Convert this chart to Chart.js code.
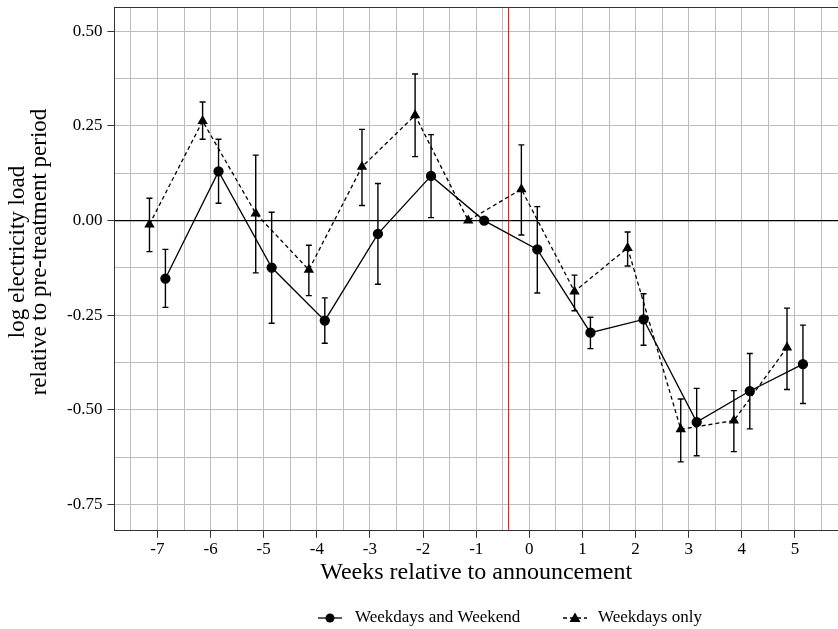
<!DOCTYPE html>
<html>
<head>
<meta charset="utf-8">
<script src="https://cdn.jsdelivr.net/npm/chart.js@4.4.1/dist/chart.umd.min.js"></script>
<style>
  body { margin: 0; background: #fff; }
  #wrap { width: 838px; height: 629px; position: relative; }
</style>
</head>
<body>
<div id="wrap"><canvas id="chart"></canvas></div>
<script>
// weeks relative to the announcement
const weeks = [-7, -6, -5, -4, -3, -2, -1, 0, 1, 2, 3, 4, 5];

// Weekdays and Weekend (circles, solid line)
const allEst = [-0.153, 0.130, -0.124, -0.264, -0.035, 0.118, 0, -0.076, -0.296, -0.261, -0.532, -0.450, -0.379];
const allLo  = [-0.229, 0.046, -0.271, -0.324, -0.168, 0.008, null, -0.191, -0.338, -0.329, -0.621, -0.550, -0.483];
const allHi  = [-0.076, 0.215, 0.022, -0.204, 0.098, 0.227, null, 0.037, -0.255, -0.193, -0.443, -0.351, -0.276];

// Weekdays only (triangles, dashed line)
const wdEst = [-0.010, 0.263, 0.019, -0.130, 0.142, 0.278, 0, 0.083, -0.187, -0.072, -0.551, -0.528, -0.335];
const wdLo  = [-0.082, 0.215, -0.138, -0.198, 0.040, 0.169, null, -0.038, -0.238, -0.120, -0.637, -0.610, -0.446];
const wdHi  = [0.059, 0.313, 0.173, -0.065, 0.241, 0.387, null, 0.200, -0.144, -0.030, -0.471, -0.449, -0.231];

const xTicks = [-7.5, -7, -6.5, -6, -5.5, -5, -4.5, -4, -3.5, -3, -2.5, -2, -1.5, -1, -0.5,
                0, 0.5, 1, 1.5, 2, 2.5, 3, 3.5, 4, 4.5, 5, 5.5];
const yTicks = [-0.75, -0.625, -0.5, -0.375, -0.25, -0.125, 0, 0.125, 0.25, 0.375, 0.5];

const announceWeek = -0.39;  // red line
const dodge = 0.15;          // series side-by-side

const serif = "'Liberation Serif', 'DejaVu Serif', serif";

const isMajorX = v => Number.isInteger(v);
const isMajorY = v => Math.abs(v * 4 - Math.round(v * 4)) < 1e-9;

// error bars with caps
const errorBars = {
  id: 'errorBars',
  afterDatasetsDraw(chart) {
    const {ctx, scales: {x, y}} = chart;
    ctx.save();
    ctx.strokeStyle = '#000';
    ctx.lineWidth = 1.4;
    chart.data.datasets.forEach(ds => {
      ds.lo.forEach((lo, i) => {
        const hi = ds.hi[i];
        if (lo == null || hi == null) return;
        const px = x.getPixelForValue(ds.data[i].x);
        const p1 = y.getPixelForValue(lo);
        const p2 = y.getPixelForValue(hi);
        ctx.beginPath();
        ctx.moveTo(px, p1); ctx.lineTo(px, p2);
        ctx.moveTo(px - 3, p1); ctx.lineTo(px + 3, p1);
        ctx.moveTo(px - 3, p2); ctx.lineTo(px + 3, p2);
        ctx.stroke();
      });
    });
    ctx.restore();
  }
};

// zero line, announcement line, top border
const refLines = {
  id: 'refLines',
  beforeDatasetsDraw(chart) {
    const {ctx, chartArea: a, scales: {x, y}} = chart;
    ctx.save();
    ctx.strokeStyle = '#333';
    ctx.lineWidth = 1;
    ctx.beginPath();
    ctx.moveTo(a.left, a.top + 0.5); ctx.lineTo(a.right, a.top + 0.5);
    ctx.stroke();

    const y0 = y.getPixelForValue(0);
    ctx.strokeStyle = '#000';
    ctx.lineWidth = 1.3;
    ctx.beginPath();
    ctx.moveTo(a.left, y0); ctx.lineTo(a.right, y0);
    ctx.stroke();

    const xr = x.getPixelForValue(announceWeek);
    ctx.strokeStyle = '#ff0000';
    ctx.lineWidth = 1;
    ctx.beginPath();
    ctx.moveTo(xr, a.top); ctx.lineTo(xr, a.bottom);
    ctx.stroke();
    ctx.restore();
  }
};

// y title (two lines) and bottom legend
const extras = {
  id: 'extras',
  afterDraw(chart) {
    const {ctx} = chart;
    ctx.save();
    ctx.fillStyle = '#000';
    ctx.font = '23px ' + serif;
    ctx.textAlign = 'center';
    ctx.textBaseline = 'middle';
    ctx.translate(0, 252);
    ctx.rotate(-Math.PI / 2);
    ctx.fillText('log electricity load', 0, 18);
    ctx.fillText('relative to pre-treatment period', 0, 40);
    ctx.restore();

    ctx.save();
    const ly = 618;
    // solid + circle
    ctx.strokeStyle = '#000';
    ctx.fillStyle = '#000';
    ctx.lineWidth = 1.3;
    ctx.beginPath(); ctx.moveTo(318, ly); ctx.lineTo(342, ly); ctx.stroke();
    ctx.beginPath(); ctx.arc(330, ly, 4.5, 0, Math.PI * 2); ctx.fill();
    // dashed + triangle
    ctx.setLineDash([4, 3]);
    ctx.beginPath(); ctx.moveTo(563, ly); ctx.lineTo(587, ly); ctx.stroke();
    ctx.setLineDash([]);
    ctx.beginPath();
    ctx.moveTo(575, ly - 5.5); ctx.lineTo(580.5, ly + 4); ctx.lineTo(569.5, ly + 4);
    ctx.closePath(); ctx.fill();

    ctx.font = '17px ' + serif;
    ctx.textBaseline = 'middle';
    ctx.textAlign = 'left';
    ctx.fillText(chart.data.datasets[0].label, 355, ly);
    ctx.fillText(chart.data.datasets[1].label, 598, ly);
    ctx.restore();
  }
};

const axisGrid = {
  color: '#bdbdbd',
  lineWidth: 1,
  drawTicks: true,
  tickLength: 7
};

// let the layout padding alone decide the plot edges
const noEdgePadding = s => {
  s.paddingTop = 0; s.paddingBottom = 0;
  s.paddingLeft = 0; s.paddingRight = 0;
};

new Chart(document.getElementById('chart'), {
  type: 'scatter',
  data: {
    datasets: [
      {
        label: 'Weekdays and Weekend',
        data: weeks.map((w, i) => ({x: w + dodge, y: allEst[i]})),
        lo: allLo, hi: allHi,
        showLine: true,
        borderColor: '#000',
        backgroundColor: '#000',
        borderWidth: 1.3,
        pointStyle: 'circle',
        pointRadius: 4.5,
        pointHoverRadius: 4.5
      },
      {
        label: 'Weekdays only',
        data: weeks.map((w, i) => ({x: w - dodge, y: wdEst[i]})),
        lo: wdLo, hi: wdHi,
        showLine: true,
        borderColor: '#000',
        backgroundColor: '#000',
        borderWidth: 1.3,
        borderDash: [4, 3],
        pointStyle: 'triangle',
        pointRadius: 6,
        pointHoverRadius: 6,
        pointBorderWidth: 0
      }
    ]
  },
  options: {
    responsive: true,
    maintainAspectRatio: false,
    animation: false,
    layout: {autoPadding: false, padding: {left: 62, right: 0, top: 7, bottom: 42}},
    plugins: {
      legend: {display: false},
      tooltip: {enabled: false}
    },
    scales: {
      x: {
        type: 'linear',
        min: -7.81,
        max: 5.81,
        afterBuildTicks: s => { s.ticks = xTicks.map(v => ({value: v})); },
        afterFit: noEdgePadding,
        ticks: {
          autoSkip: false,
          maxRotation: 0,
          padding: 2,
          color: '#000',
          font: {family: serif, size: 17},
          callback: v => isMajorX(v) ? String(v) : ''
        },
        grid: Object.assign({}, axisGrid, {
          tickColor: c => isMajorX(c.tick.value) ? '#333' : 'rgba(0,0,0,0)'
        }),
        border: {color: '#333', width: 1},
        title: {
          display: true,
          text: 'Weeks relative to announcement',
          color: '#000',
          font: {family: serif, size: 24},
          padding: {top: -4, bottom: 0}
        }
      },
      y: {
        min: -0.819,
        max: 0.564,
        afterBuildTicks: s => { s.ticks = yTicks.map(v => ({value: v})); },
        afterFit: noEdgePadding,
        ticks: {
          autoSkip: false,
          padding: 5,
          color: '#000',
          font: {family: serif, size: 17},
          callback: v => isMajorY(v) ? v.toFixed(2) : ''
        },
        grid: Object.assign({}, axisGrid, {
          tickColor: c => isMajorY(c.tick.value) ? '#333' : 'rgba(0,0,0,0)'
        }),
        border: {color: '#333', width: 1}
      }
    }
  },
  plugins: [refLines, errorBars, extras]
});
</script>
</body>
</html>
